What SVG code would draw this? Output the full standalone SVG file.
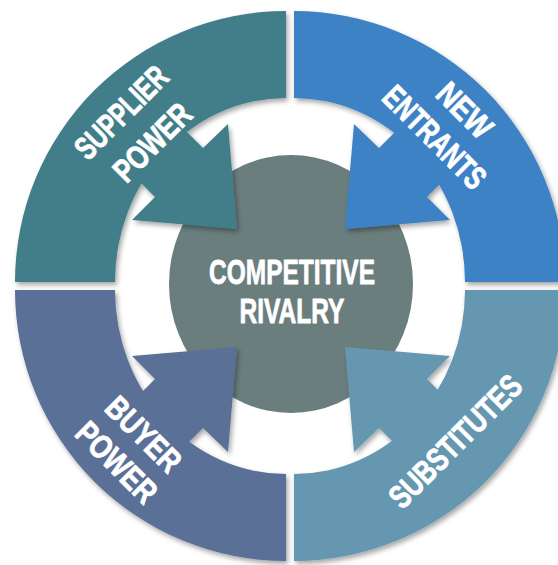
<svg xmlns="http://www.w3.org/2000/svg" width="558" height="565" viewBox="0 0 558 565">
  <style>
    .lbl { font-family: "Liberation Sans", Arial, sans-serif; font-weight: bold; fill: #ffffff; stroke: #ffffff; stroke-width: 0.8px; stroke-linejoin: round; text-anchor: middle; }
    .side { font-size: 33px; }
    .core { font-size: 35px; }
    .seg { filter: url(#shade); }
  </style>
  <defs>
    <filter id="shade" x="-10%" y="-10%" width="125%" height="125%">
      <feDropShadow dx="2" dy="3" stdDeviation="2.5" flood-color="#000000" flood-opacity="0.35"/>
    </filter>
  </defs>
  <rect width="558" height="565" fill="#ffffff"/>

  <!-- central hub -->
  <g id="competitive-rivalry">
    <ellipse cx="291" cy="284" rx="122" ry="129" fill="#6b7e7e"/>
  </g>

  <!-- four force segments, each a quarter ring with an arrow pointing at the hub -->
  <g id="connectors">
    <g id="supplier-power" class="seg" fill="#437e8a">
      <path d="M286,11 A271,271 0 0 0 15,282 L115,282 A171,184 0 0 1 286,98 Z"/>
      <polygon points="237,229 228,124 203,148 139,84 91,133 155,197 132,220"/>
    </g>
    <g id="new-entrants" class="seg" fill="#3c82c4">
      <path d="M294,11 A271,271 0 0 1 565,282 L465,282 A171,184 0 0 0 294,98 Z"/>
      <polygon points="345,229 354,124 379,148 443,84 491,133 427,197 450,220"/>
    </g>
    <g id="buyer-power" class="seg" fill="#5a6f97">
      <path d="M15,290 A271,271 0 0 0 286,561 L286,474 A171,184 0 0 1 115,290 Z"/>
      <polygon points="237,347 228,452 203,428 139,492 91,443 155,379 132,356"/>
    </g>
    <g id="substitutes" class="seg" fill="#6697b0">
      <path d="M565,290 A271,271 0 0 1 294,561 L294,474 A171,184 0 0 0 465,290 Z"/>
      <polygon points="345,347 354,452 379,428 443,492 491,443 427,379 450,356"/>
    </g>
  </g>

  <!-- labels -->
  <g id="labels">
    <text class="lbl core" x="292" y="284" textLength="166" lengthAdjust="spacingAndGlyphs">COMPETITIVE</text>
    <text class="lbl core" x="292" y="323" textLength="105" lengthAdjust="spacingAndGlyphs">RIVALRY</text>

    <text class="lbl side" transform="translate(121,112) rotate(-45)" y="11.8" textLength="117" lengthAdjust="spacingAndGlyphs">SUPPLIER</text>
    <text class="lbl side" transform="translate(152,142) rotate(-45)" y="11.8" textLength="96" lengthAdjust="spacingAndGlyphs">POWER</text>

    <text class="lbl side" transform="translate(465,110) rotate(45)" y="11.8" textLength="64" lengthAdjust="spacingAndGlyphs">NEW</text>
    <text class="lbl side" transform="translate(435,137) rotate(45)" y="11.8" textLength="131" lengthAdjust="spacingAndGlyphs">ENTRANTS</text>

    <text class="lbl side" transform="translate(144,434) rotate(45)" y="11.8" textLength="92" lengthAdjust="spacingAndGlyphs">BUYER</text>
    <text class="lbl side" transform="translate(117,462) rotate(45)" y="11.8" textLength="100" lengthAdjust="spacingAndGlyphs">POWER</text>

    <text class="lbl side" transform="translate(455,441) rotate(-45)" y="11.8" textLength="173" lengthAdjust="spacingAndGlyphs">SUBSTITUTES</text>
  </g>
</svg>
